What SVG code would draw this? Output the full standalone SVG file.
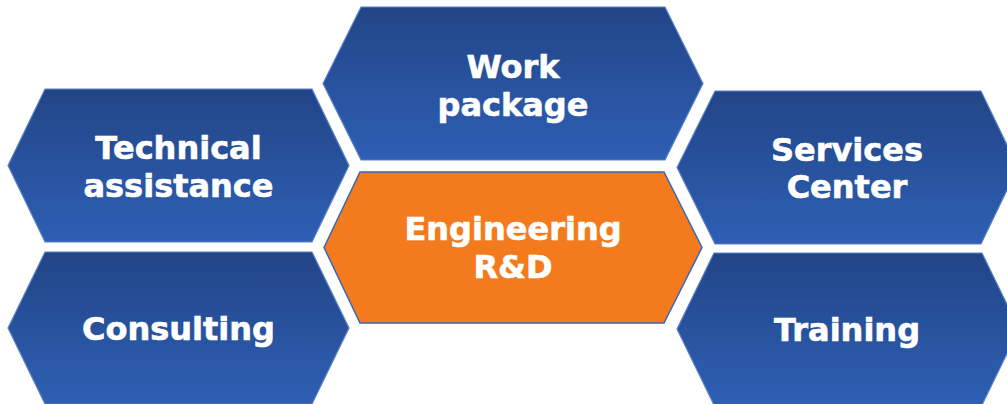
<svg xmlns="http://www.w3.org/2000/svg" width="1007" height="404" viewBox="0 0 1007 404">
<defs>
<linearGradient id="blue" x1="0" y1="0" x2="0" y2="1">
<stop offset="0" stop-color="#224586"/>
<stop offset="1" stop-color="#2e5fb4"/>
</linearGradient>
<style>
.hex{fill:url(#blue);stroke:#5b82c8;stroke-width:1.2}
.hexo{fill:#f47b1d;stroke:#3b66b6;stroke-width:1.5}
.t{font-family:"DejaVu Sans",Verdana,sans-serif;font-weight:bold;font-size:32px;fill:#ffffff;stroke:#ffffff;stroke-width:0.6;text-anchor:middle}
</style>
</defs>
<rect width="1007" height="404" fill="#ffffff"/>
<g id="technical">
<polygon class="hex" points="45,89 312,89 349,165.5 312,242 45,242 8,165.5"/>
<text class="t" x="178.5" y="159">Technical</text>
<text class="t" x="178.5" y="197">assistance</text>
</g>
<g id="work">
<polygon class="hex" points="361,7 665,7 703,83.5 665,160 361,160 323,83.5"/>
<text class="t" x="513" y="78">Work</text>
<text class="t" x="513" y="116">package</text>
</g>
<g id="services">
<polygon class="hex" points="715,91 981,91 1018,167.5 981,244 715,244 677,167.5"/>
<text class="t" x="847" y="161">Services</text>
<text class="t" x="847" y="198">Center</text>
</g>
<g id="consulting">
<polygon class="hex" points="45,252 312,252 349,328 312,404 45,404 8,328"/>
<text class="t" x="178.5" y="340">Consulting</text>
</g>
<g id="engineering">
<polygon class="hexo" points="360,172 664,172 702,247.5 664,323 360,323 324,247.5"/>
<text class="t" x="513" y="240">Engineering</text>
<text class="t" x="513" y="278">R&amp;D</text>
</g>
<g id="training">
<polygon class="hex" points="714,253 982,253 1019,329 982,405 714,405 677,329"/>
<text class="t" x="847" y="341">Training</text>
</g>
<g id="connectors"/>
</svg>
